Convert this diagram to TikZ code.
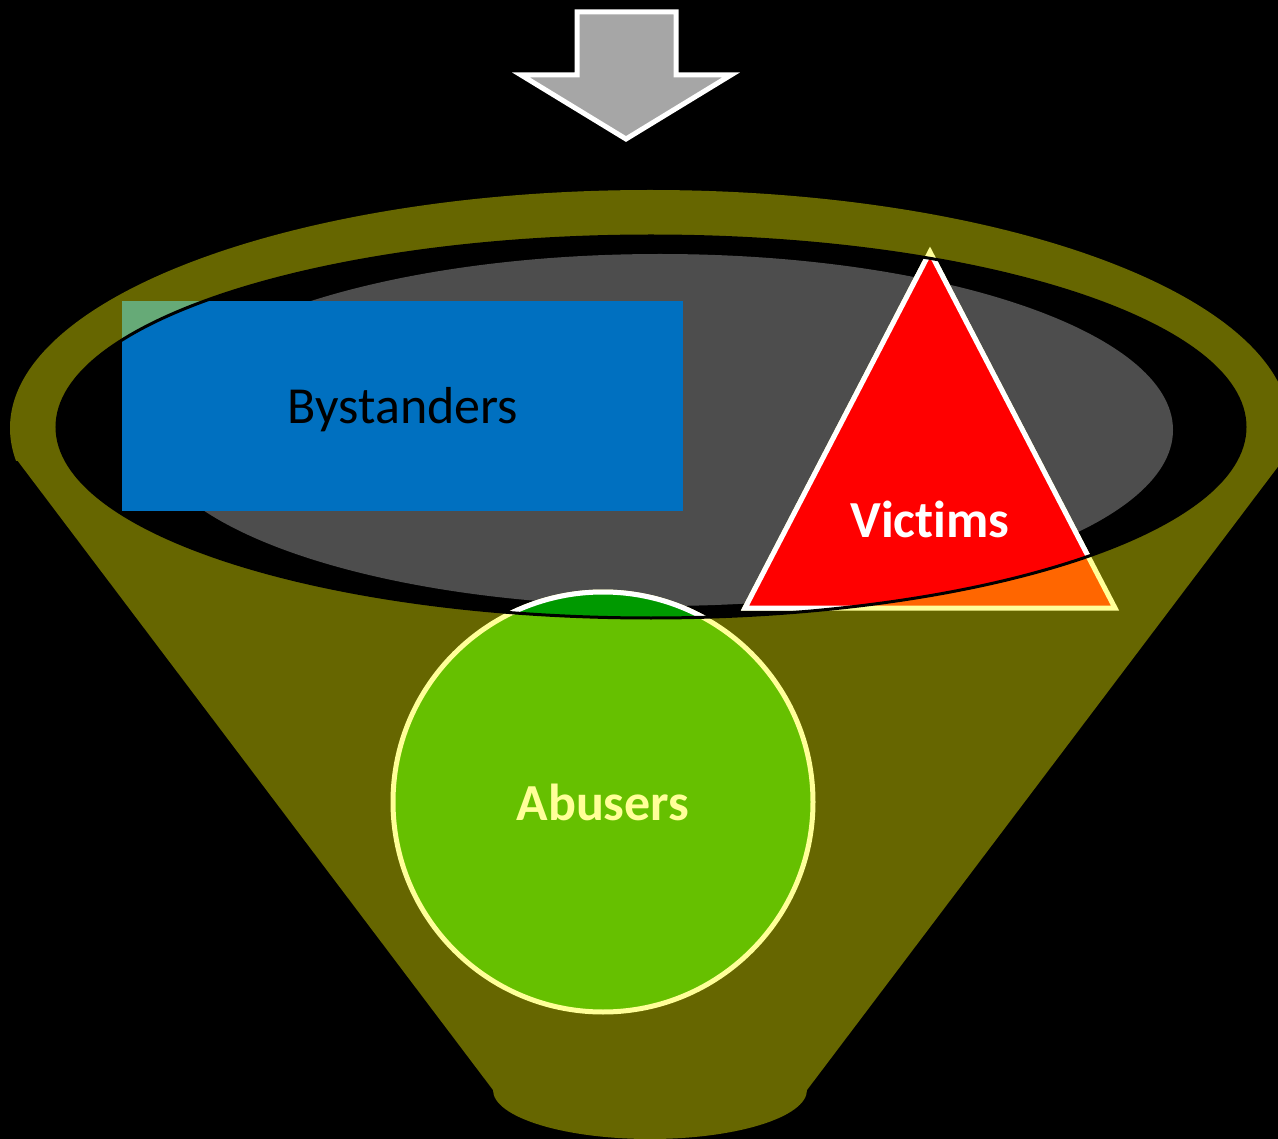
\documentclass[tikz,border=0pt]{standalone}
\usepackage{fontspec}
\setmainfont{Carlito}[RawFeature={-liga}]
\begin{document}
\begin{tikzpicture}[x=1pt,y=-1pt]
\definecolor{funnelc}{RGB}{102,102,0}
\definecolor{grayc}{RGB}{77,77,77}
\definecolor{arrowc}{RGB}{166,166,166}
\definecolor{bluec}{RGB}{0,112,192}
\definecolor{paleg}{RGB}{102,170,119}
\definecolor{orangec}{RGB}{255,102,0}
\definecolor{paley}{RGB}{255,255,153}
\definecolor{lgreen}{RGB}{102,192,0}
\definecolor{dgreen}{RGB}{0,153,0}
\tikzset{
  lbl/.style={anchor=base, font=\fontsize{52}{60}\selectfont},
  tri/.style={line width=5pt, line join=miter},
  circ/.style={line width=5pt}
}
\useasboundingbox (0,0) rectangle (1278,1139);
\fill[black] (0,0) rectangle (1278,1139);
% funnel
\begin{scope}
\clip (0,0) rectangle (1300,461);
\fill[funnelc] (650,428) ellipse [x radius=640, y radius=238];
\end{scope}
\fill[funnelc] (17,460) -- (493,1090) arc [start angle=180, end angle=0, x radius=157, y radius=49] -- (1283,460) -- cycle;
\fill[black] (651,427) ellipse [x radius=594, y radius=191];
\fill[grayc] (660,430) ellipse [x radius=513, y radius=176];
% arrow
\draw[white, fill=arrowc, line width=5pt, line join=miter] (577,12) -- (676,12) -- (676,75) -- (731,75) -- (626,139) -- (521,75) -- (577,75) -- cycle;
% shapes, outer colours
\fill[paleg] (122,301) rectangle (683,511);
\draw[tri, paley, fill=orangec] (930,252) -- (1115,608) -- (745,608) -- cycle;
\draw[circ, paley, fill=lgreen] (603,802) circle [radius=210];
% shapes inside the lens
\begin{scope}
\clip (651,427) ellipse [x radius=594, y radius=191];
\fill[bluec] (122,301) rectangle (683,511);
\draw[tri, white, fill=red] (930,252) -- (1115,608) -- (745,608) -- cycle;
\draw[circ, white, fill=dgreen] (603,802) circle [radius=210];
\end{scope}
\draw[black, line width=3pt] (651,427) ellipse [x radius=594, y radius=191];
% labels
\node[lbl, text=black] (by) at (403,424) {Bystanders};
\node[lbl, text=white, font=\fontsize{52}{60}\selectfont\bfseries] (vi) at (930,537) {Victims};
\node[lbl, text=paley, font=\fontsize{52}{60}\selectfont\bfseries] (ab) at (603,820) {Abusers};
\end{tikzpicture}
\end{document}
